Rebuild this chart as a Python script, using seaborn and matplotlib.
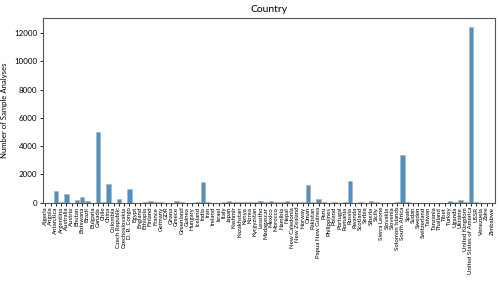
import pandas as pd
import seaborn as sns
import matplotlib.pyplot as plt

countries = ["Algeria", "Angola", "Antarctica", "Argentina", "Australia", "Austria",
             "Bhutan", "Botswana", "Brazil", "Bulgaria", "Canada", "Chile", "China",
             "Colombia", "Czech Republic", "Czechoslovakia", "D. R. Congo", "Egypt",
             "England", "Ethiopia", "Finland", "France", "Germany", "GDR", "Ghana",
             "Greece", "Greenland", "Guinea", "Hungary", "Iceland", "India", "Iran",
             "Ireland", "Israel", "Italy", "Japan", "Kashmir", "Kazakhstan", "Kenya",
             "Korea", "Kyrgyzstan", "Lesotho", "Madagascar", "Mexico", "Morocco",
             "Namibia", "Nepal", "New Caledonia", "New Zealand", "Norway", "Oman",
             "Pakistan", "Papua New Guinea", "Peru", "Philippines", "Poland", "Portugal",
             "Romania", "Russia", "Rwanda", "Scotland", "Serbia", "Siberia", "Sicily",
             "Sierra Leone", "Slovakia", "Slovenia", "Solomon Islands", "South Africa",
             "Spain", "Sudan", "Sweden", "Switzerland", "Taiwan", "Tanzania", "Thailand",
             "Tibet", "Turkey", "Uganda", "Ukraine", "United Kingdom",
             "United States of America", "USSR", "Venezuela", "Zaire", "Zimbabwe"]

counts = [5, 3, 820, 10, 590, 5,
          190, 425, 100, 5, 4990, 10, 1320,
          5, 240, 5, 950, 5,
          5, 10, 100, 10, 10, 5, 5,
          120, 60, 5, 5, 10, 1450, 20,
          5, 5, 10, 80, 10, 40, 10,
          10, 10, 80, 10, 80, 10,
          10, 100, 10, 20, 10, 1250,
          20, 250, 10, 5, 10, 5,
          10, 1540, 5, 20, 5, 80, 10,
          5, 5, 5, 30, 3380,
          10, 5, 5, 5, 5, 5, 5,
          5, 120, 10, 190, 10,
          12460, 10, 5, 5, 5]

df = pd.DataFrame({"Country": countries, "Count": counts})

plt.rcParams['font.family'] = ['Lato', 'DejaVu Sans']
fig = plt.figure(figsize=(5, 2.81), dpi=100)
ax = fig.add_axes([0.0854, 0.279, 0.9036, 0.658])

sns.barplot(data=df, x="Country", y="Count", color="#4a93c8", saturation=1,
            edgecolor="#b5b5b5", linewidth=0.6, width=0.85, ax=ax)

ax.set_title("Country", fontsize=7.5, pad=4)
ax.set_xlabel("")
ax.set_ylabel("Number of Sample Analyses", fontsize=5.6, labelpad=4)
ax.set_ylim(0, 13100)
ax.set_yticks(range(0, 12001, 2000))
ax.tick_params(axis='y', labelsize=5.8, length=2.5, width=0.6, pad=1.5)
ax.tick_params(axis='x', labelsize=4.4, length=2, width=0.6, pad=1, rotation=90)
for s in ax.spines.values():
    s.set_linewidth(0.8)
    s.set_color("#555555")

fig.savefig("out.png", dpi=100)
